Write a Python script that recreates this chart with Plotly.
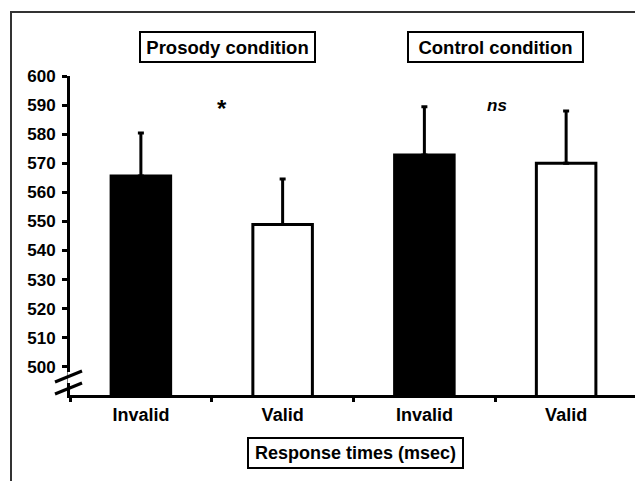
import plotly.graph_objects as go

categories = ["Invalid", "Valid", "Invalid", "Valid"]
means = [565.6, 548.9, 572.8, 570.0]
upper = [580.4, 564.6, 589.4, 588.0]
fill_colors = ["black", "white", "black", "white"]
y_ticks = [500, 510, 520, 530, 540, 550, 560, 570, 580, 590, 600]
group_titles = ["Prosody condition", "Control condition"]
signif = ["*", "ns"]

x_pos = list(range(len(categories)))
err_plus = [u - m for u, m in zip(upper, means)]
err_minus = [0] * len(means)

FONT = "Liberation Sans, Arial, sans-serif"

W, H = 635, 481
L, R, T, B = 70, 0, 76, 86
PW = W - L - R
PH = H - T - B


def px(x):
    return (x - L) / PW


def py(y):
    return (H - B - y) / PH


fig = go.Figure()
fig.add_trace(go.Bar(
    x=x_pos, y=means, width=0.42,
    marker=dict(color=fill_colors, line=dict(color="black", width=3)),
    error_y=dict(type="data", array=err_plus, arrayminus=err_minus,
                 symmetric=False, thickness=3, width=3, color="black"),
    showlegend=False, hoverinfo="skip",
))

x_right = -0.5 + 4 * PW / 567.0

fig.update_layout(
    width=W, height=H,
    margin=dict(l=L, r=R, t=T, b=B, pad=0, autoexpand=False),
    plot_bgcolor="white", paper_bgcolor="white",
    font=dict(family=FONT, color="black", weight="bold"),
    xaxis=dict(
        range=[-0.5, x_right], tickmode="array", tickvals=x_pos,
        ticktext=categories, ticks="", showgrid=False, zeroline=False,
        showline=True, linecolor="black", linewidth=3,
        tickfont=dict(size=18, family=FONT, weight="bold"),
        minor=dict(tickmode="array", tickvals=[-0.5, 0.5, 1.5, 2.5, 3.5],
                   ticks="outside", ticklen=4, tickwidth=3, tickcolor="black",
                   showgrid=False),
        ticklabelstandoff=1,
    ),
    yaxis=dict(
        range=[490.3, 600], tickmode="array", tickvals=y_ticks,
        ticks="outside", ticklen=5, tickwidth=3, tickcolor="black",
        showgrid=False, zeroline=False, showline=True, linecolor="black",
        linewidth=3, tickfont=dict(size=17, family=FONT, weight="bold"),
        ticklabelstandoff=3,
    ),
)

# significance markers
fig.add_annotation(x=0.57, y=590, xref="x", yref="y", text=signif[0],
                   showarrow=False, yshift=-3,
                   font=dict(size=24, family=FONT, weight="bold"))
fig.add_annotation(x=2.51, y=590, xref="x", yref="y", text=signif[1],
                   showarrow=False,
                   font=dict(size=17, family=FONT, weight="bold", style="italic"))

# boxed titles
for title, cx in zip(group_titles, [227.5, 495.5]):
    fig.add_annotation(x=px(cx), y=py(47), xref="paper", yref="paper",
                       xanchor="center", yanchor="middle",
                       text=title, showarrow=False, bordercolor="black",
                       borderwidth=2, borderpad=2, width=169, height=24,
                       bgcolor="white",
                       font=dict(size=18.5, family=FONT, weight="bold"))
fig.add_annotation(x=px(355.5), y=py(453), xref="paper", yref="paper",
                   xanchor="center", yanchor="middle",
                   text="Response times (msec)", showarrow=False,
                   bordercolor="black", borderwidth=2, borderpad=2,
                   width=209, height=24, bgcolor="white",
                   font=dict(size=18, family=FONT, weight="bold"))

# outer frame
fig.add_shape(type="rect", xref="paper", yref="paper",
              x0=px(11), x1=px(645), y0=py(12), y1=py(500),
              line=dict(color="#333333", width=2), layer="below")

# axis break
fig.add_shape(type="line", xref="paper", yref="paper",
              x0=px(70), x1=px(70), y0=py(372), y1=py(383),
              line=dict(color="white", width=5))
for y0, y1 in [(382, 371), (394, 383)]:
    fig.add_shape(type="line", xref="paper", yref="paper",
                  x0=px(55), x1=px(82), y0=py(y0), y1=py(y1),
                  line=dict(color="black", width=3))

fig.write_html("out.html", config={"displayModeBar": False},
               post_script="document.body.style.margin='0';document.body.style.padding='0';")
